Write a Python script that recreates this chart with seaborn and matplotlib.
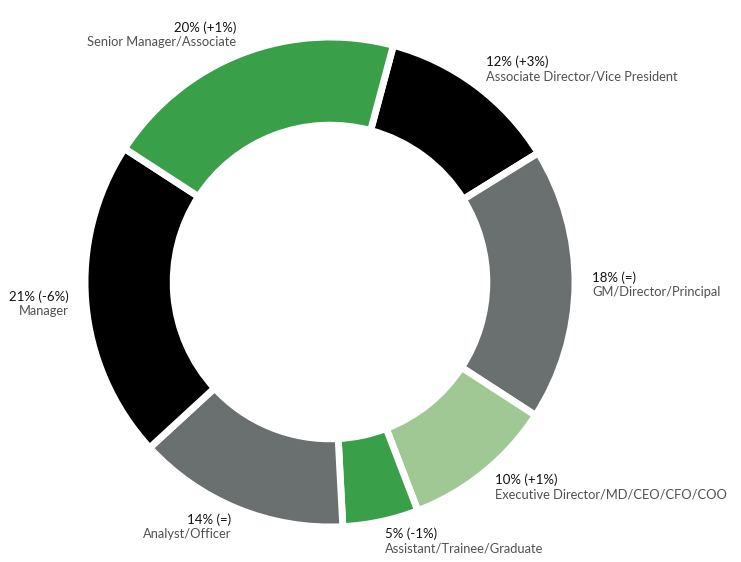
import numpy as np
import matplotlib.pyplot as plt
import seaborn as sns

sns.set_theme(style="white")
plt.rcParams['font.family'] = ['Lato', 'DejaVu Sans']

# data, clockwise from the top
roles = ["Associate Director/Vice President", "GM/Director/Principal",
         "Executive Director/MD/CEO/CFO/COO", "Assistant/Trainee/Graduate",
         "Analyst/Officer", "Manager", "Senior Manager/Associate"]
shares = [12, 18, 10, 5, 14, 21, 20]
changes = ["+3%", "=", "+1%", "-1%", "=", "-6%", "+1%"]
colors = ["#000000", "#6a6f6f", "#a0c895", "#3a9f49", "#6a6f6f", "#000000", "#3a9f49"]

fig = plt.figure(figsize=(7.41, 5.62), dpi=100)
R = 245  # outer radius in pixels
side = 2.8 * R
cx, cy = 330, 562 - 282
ax = fig.add_axes([(cx - side / 2) / 741, (cy - side / 2) / 562, side / 741, side / 562])

wedges, _ = ax.pie(shares, colors=colors, startangle=75, counterclock=False,
                   radius=1, wedgeprops=dict(width=0.36, edgecolor="white", linewidth=5))

for w, role, s, c in zip(wedges, roles, shares, changes):
    mid = np.deg2rad((w.theta1 + w.theta2) / 2)
    x, y = 1.07 * np.cos(mid), 1.08 * np.sin(mid)
    ha = "left" if x > 0 else "right"
    ax.text(x, y + 0.005, f"{s}% ({c})", ha=ha, va="bottom", fontsize=9.5, color="#111111")
    ax.text(x, y - 0.005, role, ha=ha, va="top", fontsize=9.3, color="#505050")

ax.set_xlim(-1.4, 1.4)
ax.set_ylim(-1.4, 1.4)
ax.set_aspect("equal")
ax.axis("off")

fig.savefig("out.png", dpi=100)
